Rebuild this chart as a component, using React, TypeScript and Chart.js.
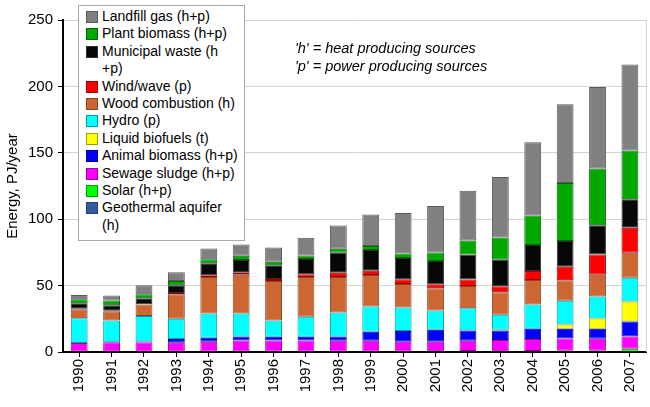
import React, { useEffect, useRef } from "react";
import { Chart, registerables } from "chart.js";

Chart.register(...registerables);

const years = ["1990","1991","1992","1993","1994","1995","1996","1997","1998","1999","2000","2001","2002","2003","2004","2005","2006","2007"];

// Stack order, bottom to top
const geothermal = [0,0,0,0,0,0,0,0,0,0,0,0,0,0,0,0,0,0];
const solar = [0,0,0,0,0,0,0,0,0,0,0,0.5,0.7,0.5,0.7,1,1,2.5];
const sewage = [6.75,7.25,7.1,7,7.75,8.75,8.75,8.75,8.5,8.5,7.75,7.25,7.8,8.5,9.05,9.25,9,9.25];
const animal = [0,0,0.9,2.75,3,3,2.75,2.75,3.25,6.75,8,9,7.75,7.25,7.75,7.25,7.5,11.25];
const liquid = [0,0,0,0,0,0,0,0,0,0,0,0,0,0.5,0,3.25,7.75,15];
const hydro = [18.75,16.5,19.2,15.25,18.25,17.25,12.25,15,18,19,17.75,14.5,16.75,11.25,18.25,17.75,16.5,18];
const wood = [6.75,7,8.55,18.4,27.5,29.25,29.75,30,26.75,23.75,17.75,16.75,16.75,17,18.5,15.5,16.5,18.75];
const wind = [0.25,0.25,0.25,1,1.25,1.5,1.5,2,3.25,3.25,3.5,3,4.75,4.5,6.75,10.25,15.25,18.75];
const municipal = [4.25,4.25,4.5,5.85,9,9.5,10.25,11.5,15,15.5,16,17.5,19,20,19.5,19.25,22,21.5];
const plant = [3,3.5,3,3.25,3,3.25,2.75,2.75,3,3,3.5,6.5,10.5,16.75,22.25,43.75,42.75,36.75];
const landfill = [3.25,3.75,6.75,6.6,8.25,8.5,10.75,13.25,17.5,23.75,30.5,35,37.5,45.5,55.25,59.25,61.25,64.75];

const seriesLabels = [
  "Geothermal aquifer\n(h)",
  "Solar (h+p)",
  "Sewage sludge (h+p)",
  "Animal biomass (h+p)",
  "Liquid biofuels (t)",
  "Hydro (p)",
  "Wood combustion (h)",
  "Wind/wave (p)",
  "Municipal waste (h\n+p)",
  "Plant biomass (h+p)",
  "Landfill gas (h+p)",
];
const seriesData = [geothermal, solar, sewage, animal, liquid, hydro, wood, wind, municipal, plant, landfill];
const seriesColors = ["#335a9c","#00ff00","#ff00ff","#0000ff","#ffff00","#00ffff","#cc6633","#ff0000","#050805","#00a800","#808080"];
const seriesBorders = ["#22407a","#00a000","#a000a0","#0000a0","#a0a000","#00a0a0","#8a4422","#a00000","#303030","#006a00","#5a5a5a"];

const yTicks = [0, 50, 100, 150, 200, 250];
const notes = ["'h' = heat producing sources", "'p' = power producing sources"];

const FONT = "'Liberation Sans', Arial, sans-serif";

export default function App() {
  const ref = useRef<HTMLCanvasElement | null>(null);

  useEffect(() => {
    document.body.style.margin = "0";
    const canvas = ref.current;
    if (!canvas) return;
    const borderPlugin = {
      id: "plotBorder",
      beforeDatasetsDraw(chart: any) {
        const { ctx, chartArea } = chart;
        ctx.save();
        ctx.strokeStyle = "#d4d4d4";
        ctx.lineWidth = 1;
        ctx.beginPath();
        const x = Math.round(chartArea.right) + 0.5;
        ctx.moveTo(x, chartArea.top);
        ctx.lineTo(x, chartArea.bottom);
        ctx.stroke();
        ctx.restore();
      },
    };
    const chart = new Chart(canvas, {
      type: "bar",
      data: {
        labels: years,
        datasets: seriesData.map((d, i) => ({
          label: seriesLabels[i].replace("\n", " "),
          data: d,
          backgroundColor: seriesColors[i],
          borderColor: seriesBorders[i],
          borderWidth: i === 0 ? 0 : 1,
          borderSkipped: false,
          barPercentage: 0.52,
          categoryPercentage: 1,
        })),
      },
      options: {
        responsive: false,
        animation: false,
        devicePixelRatio: 1,
        layout: { padding: { top: 20, right: 3, left: 0, bottom: 0 } },
        plugins: { legend: { display: false }, tooltip: { enabled: false } },
        scales: {
          x: {
            stacked: true,
            grid: { offset: false, drawOnChartArea: false, tickLength: 5, tickColor: "#000", tickWidth: 1 },
            border: { color: "#000", width: 2 },
            ticks: { minRotation: 90, maxRotation: 90, color: "#000", font: { family: FONT, size: 15 }, padding: 2 },
            afterFit: (s: any) => { s.height = 55; },
          },
          y: {
            stacked: true,
            min: yTicks[0],
            max: yTicks[yTicks.length - 1],
            afterBuildTicks: (s: any) => { s.ticks = yTicks.map((v) => ({ value: v })); },
            grid: { color: "#d4d4d4", tickColor: "#000", tickLength: 5 },
            border: { color: "#000", width: 2 },
            ticks: { color: "#000", font: { family: FONT, size: 15 }, padding: 5 },
            title: { display: true, text: "Energy, PJ/year", color: "#000", font: { family: FONT, size: 15 }, padding: { top: 4, bottom: 4 } },
            afterFit: (s: any) => { s.width = 63; },
          },
        },
      },
      plugins: [borderPlugin],
    });
    return () => chart.destroy();
  }, []);

  const legendOrder = seriesLabels.map((l, i) => i).reverse();

  return (
    <div style={{ position: "relative", width: 650, height: 407, background: "#fff" }}>
      <canvas ref={ref} width={650} height={407} style={{ display: "block" }} />
      <div
        style={{
          position: "absolute",
          left: 78,
          top: 5,
          width: 165,
          height: 232,
          border: "1px solid #a8a8a8",
          background: "#fff",
          fontFamily: FONT,
          fontSize: 14,
          color: "#000",
          paddingTop: 2,
          boxSizing: "content-box",
        }}
      >
        {legendOrder.map((i) => (
          <div key={i} style={{ position: "relative", paddingLeft: 23, lineHeight: "17.4px", whiteSpace: "pre-line" }}>
            <span
              style={{
                position: "absolute",
                left: 7,
                top: 3,
                width: 10,
                height: 10,
                background: seriesColors[i],
                border: "1px solid " + seriesBorders[i],
              }}
            />
            {seriesLabels[i]}
          </div>
        ))}
      </div>
      <div
        style={{
          position: "absolute",
          left: 295,
          top: 39,
          fontFamily: FONT,
          fontSize: 14.5,
          fontStyle: "italic",
          lineHeight: "18px",
          color: "#000",
          whiteSpace: "nowrap",
        }}
      >
        {notes.map((n) => (
          <div key={n}>{n}</div>
        ))}
      </div>
    </div>
  );
}
